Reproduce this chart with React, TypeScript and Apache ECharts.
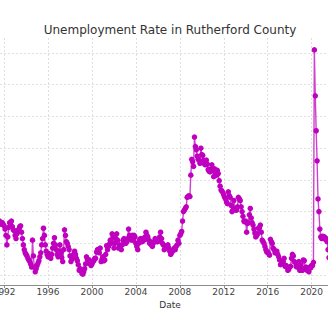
import React, { useEffect, useRef } from "react";
import * as echarts from "echarts";

// Monthly unemployment rate (%), first series month = August 1991
const START_YEAR = 1991;
const START_MONTH = 7; // 0-based: August
const rates1991 = [5.4, 5.3, 5.2, 5.3, 5.2];
const rates1992 = [5.1, 4.9, 4.5, 3.9, 4.4, 5.0, 5.3, 5.2, 5.4, 5.05, 4.85, 4.8];
const rates1993 = [4.5, 4.3, 4.6, 4.8, 4.9, 5.05, 5.1, 4.7, 4.3, 3.9, 3.6, 3.4];
const rates1994 = [3.3, 3.2, 3.05, 2.95, 2.85, 2.7, 2.5, 4.2, 3.2, 2.5, 2.2, 2.4];
const rates1995 = [2.6, 2.75, 2.9, 3.15, 3.4, 3.9, 4.3, 4.95, 4.5, 3.9, 3.5, 3.3];
const rates1996 = [3.15, 3.35, 3.2, 3.05, 3.3, 3.7, 4.0, 4.35, 3.9, 3.6, 3.3, 3.15];
const rates1997 = [3.5, 3.9, 3.4, 3.1, 2.85, 3.6, 4.85, 4.5, 4.1, 4.0, 3.8, 3.6];
const rates1998 = [3.2, 2.85, 3.0, 3.25, 3.3, 3.5, 3.3, 3.05, 2.9, 2.65, 2.3, 2.4];
const rates1999 = [2.3, 2.1, 2.05, 2.2, 2.4, 2.7, 3.15, 3.0, 2.9, 2.95, 2.7, 2.6];
const rates2000 = [2.7, 2.85, 2.9, 3.05, 3.05, 3.45, 3.6, 3.55, 3.4, 3.7, 2.85, 3.0];
const rates2001 = [3.15, 2.9, 2.95, 3.3, 3.85, 3.6, 3.8, 3.95, 4.2, 4.0, 4.6, 4.4];
const rates2002 = [3.7, 4.0, 4.3, 4.6, 4.2, 3.7, 3.9, 3.8, 3.6, 3.9, 4.2, 4.3];
const rates2003 = [4.2, 4.0, 4.1, 4.3, 4.9, 4.5, 4.3, 4.2, 4.5, 4.2, 4.5, 4.4];
const rates2004 = [4.0, 3.8, 3.6, 4.0, 4.2, 4.3, 4.1, 4.1, 4.3, 4.2, 4.4, 4.7];
const rates2005 = [4.5, 4.4, 4.2, 4.0, 4.1, 3.9, 3.8, 4.0, 4.1, 4.3, 4.2, 4.1];
const rates2006 = [4.1, 4.2, 4.4, 4.7, 4.3, 4.0, 3.9, 3.6, 3.7, 3.8, 3.8, 3.9];
const rates2007 = [3.7, 3.5, 3.3, 3.4, 3.5, 3.6, 3.7, 3.6, 3.8, 3.9, 4.2, 4.0];
const rates2008 = [4.5, 4.6, 4.75, 5.4, 6.0, 6.1, 6.2, 6.3, 6.9, 6.95, 7.0, 6.95];
const rates2009 = [8.3, 9.3, 9.15, 8.85, 10.7, 10.1, 9.9, 9.5, 9.3, 9.25, 9.05, 10.0];
const rates2010 = [9.6, 9.55, 9.25, 9.0, 8.95, 9.25, 9.0, 8.65, 8.55, 8.5, 8.7, 8.95];
const rates2011 = [8.6, 8.2, 8.7, 8.5, 8.3, 8.6, 8.4, 7.95, 7.6, 7.36, 7.3, 7.2];
const rates2012 = [7.05, 6.9, 6.8, 6.6, 6.5, 7.25, 7.0, 6.9, 6.4, 6.0, 6.1, 6.7];
const rates2013 = [6.2, 6.1, 6.1, 6.3, 6.9, 6.8, 6.7, 6.3, 6.0, 5.7, 5.4, 5.35];
const rates2014 = [5.4, 4.7, 5.25, 5.3, 5.8, 6.2, 5.6, 5.3, 5.15, 4.9, 4.65, 4.4];
const rates2015 = [4.5, 4.6, 4.95, 5.0, 5.15, 4.7, 4.2, 4.1, 4.0, 3.8, 3.6, 3.45];
const rates2016 = [3.45, 3.35, 3.25, 4.25, 4.1, 4.0, 3.7, 3.6, 3.4, 3.45, 3.5, 3.3];
const rates2017 = [3.15, 2.95, 2.65, 2.7, 2.75, 2.85, 3.05, 2.55, 2.6, 2.5, 2.3, 2.35];
const rates2018 = [2.5, 2.55, 3.05, 3.3, 3.2, 2.85, 2.8, 2.55, 2.5, 2.6, 2.85, 2.3];
const rates2019 = [2.65, 2.35, 2.3, 2.95, 2.9, 2.45, 2.5, 2.3, 2.4, 2.2, 2.5, 2.45];
const rates2020 = [2.6, 2.6, 2.8, 16.2, 13.3, 11.1, 9.2, 6.8, 6.0, 4.9, 4.4, 4.3];
const rates2021 = [4.45, 4.4, 4.4, 4.25, 4.3, 4.1, 3.6, 3.1];

const yearlyRates = [
  rates1991, rates1992, rates1993, rates1994, rates1995, rates1996, rates1997,
  rates1998, rates1999, rates2000, rates2001, rates2002, rates2003, rates2004,
  rates2005, rates2006, rates2007, rates2008, rates2009, rates2010, rates2011,
  rates2012, rates2013, rates2014, rates2015, rates2016, rates2017, rates2018,
  rates2019, rates2020, rates2021,
];

const TITLE = "Unemployment Rate in Rutherford County";
const X_NAME = "Date";
const GRID_VALUES = [2, 16]; // horizontal gridline range, step 2

function buildSeries(): [number, number][] {
  const out: [number, number][] = [];
  yearlyRates.forEach((arr, i) => {
    const year = START_YEAR + i;
    const m0 = i === 0 ? START_MONTH : 0;
    arr.forEach((v, j) => {
      out.push([year + (m0 + j) / 12, v]);
    });
  });
  return out;
}

export default function App() {
  const ref = useRef<HTMLDivElement>(null);
  useEffect(() => {
    if (!ref.current) return;
    const chart = echarts.init(ref.current, undefined, { renderer: "svg" });
    const gridColor = "#d6d6d6";
    chart.setOption({
      animation: false,
      backgroundColor: "#ffffff",
      textStyle: { fontFamily: "DejaVu Sans" },
      graphic: [
        {
          type: "text",
          x: 170,
          y: 30,
          style: {
            text: TITLE,
            fill: "#333333",
            font: "12px 'DejaVu Sans'",
            textAlign: "center",
            textVerticalAlign: "middle",
          },
        },
      ],
      grid: [
        { left: -39.8, right: -51.8, top: 38, bottom: 35, outerBoundsMode: "none" },
        { left: -39.8, right: -51.8, top: 53, bottom: 45, outerBoundsMode: "none" },
      ],
      xAxis: [
        {
          type: "value",
          gridIndex: 0,
          min: 1988,
          max: 2026.21,
          interval: 4,
          name: X_NAME,
          nameLocation: "middle",
          nameGap: 13,
          nameTextStyle: { fontSize: 9, color: "#333333", fontFamily: "DejaVu Sans" },
          axisLine: { show: true, lineStyle: { color: "#8c8c8c", width: 1.2 } },
          axisTick: { show: true, length: 3, lineStyle: { color: "#8c8c8c", width: 1 } },
          axisLabel: {
            margin: 2,
            fontSize: 9,
            color: "#444444",
            fontFamily: "DejaVu Sans",
            formatter: (v: number) =>
              v >= 1990 && v <= 2022 && Math.abs(v % 4) < 1e-6 ? String(Math.round(v)) : "",
          },
          splitLine: { show: true, lineStyle: { color: gridColor, width: 0.8, type: [2, 2] } },
        },
        {
          type: "value",
          gridIndex: 1,
          min: 0,
          max: 1,
          show: false,
        },
      ],
      yAxis: [
        {
          type: "value",
          gridIndex: 0,
          min: 1.37,
          max: 16.95,
          show: false,
          splitLine: { show: false },
        },
        {
          type: "value",
          gridIndex: 1,
          min: GRID_VALUES[0],
          max: GRID_VALUES[1],
          interval: 2,
          axisLine: { show: false },
          axisTick: { show: false },
          axisLabel: { show: false },
          splitLine: { show: true, lineStyle: { color: gridColor, width: 0.8, type: [2, 2] } },
        },
      ],
      series: [
        {
          type: "line",
          xAxisIndex: 0,
          yAxisIndex: 0,
          data: buildSeries(),
          symbol: "circle",
          symbolSize: 5.5,
          showSymbol: true,
          itemStyle: { color: "#bf00bf" },
          lineStyle: { color: "#bf00bf", width: 1.4, opacity: 0.75 },
          z: 3,
        },
      ],
    });
    return () => chart.dispose();
  }, []);
  return (
    <div
      ref={ref}
      style={{ position: "fixed", left: 0, top: 0, width: 328, height: 320, background: "#fff" }}
    />
  );
}
